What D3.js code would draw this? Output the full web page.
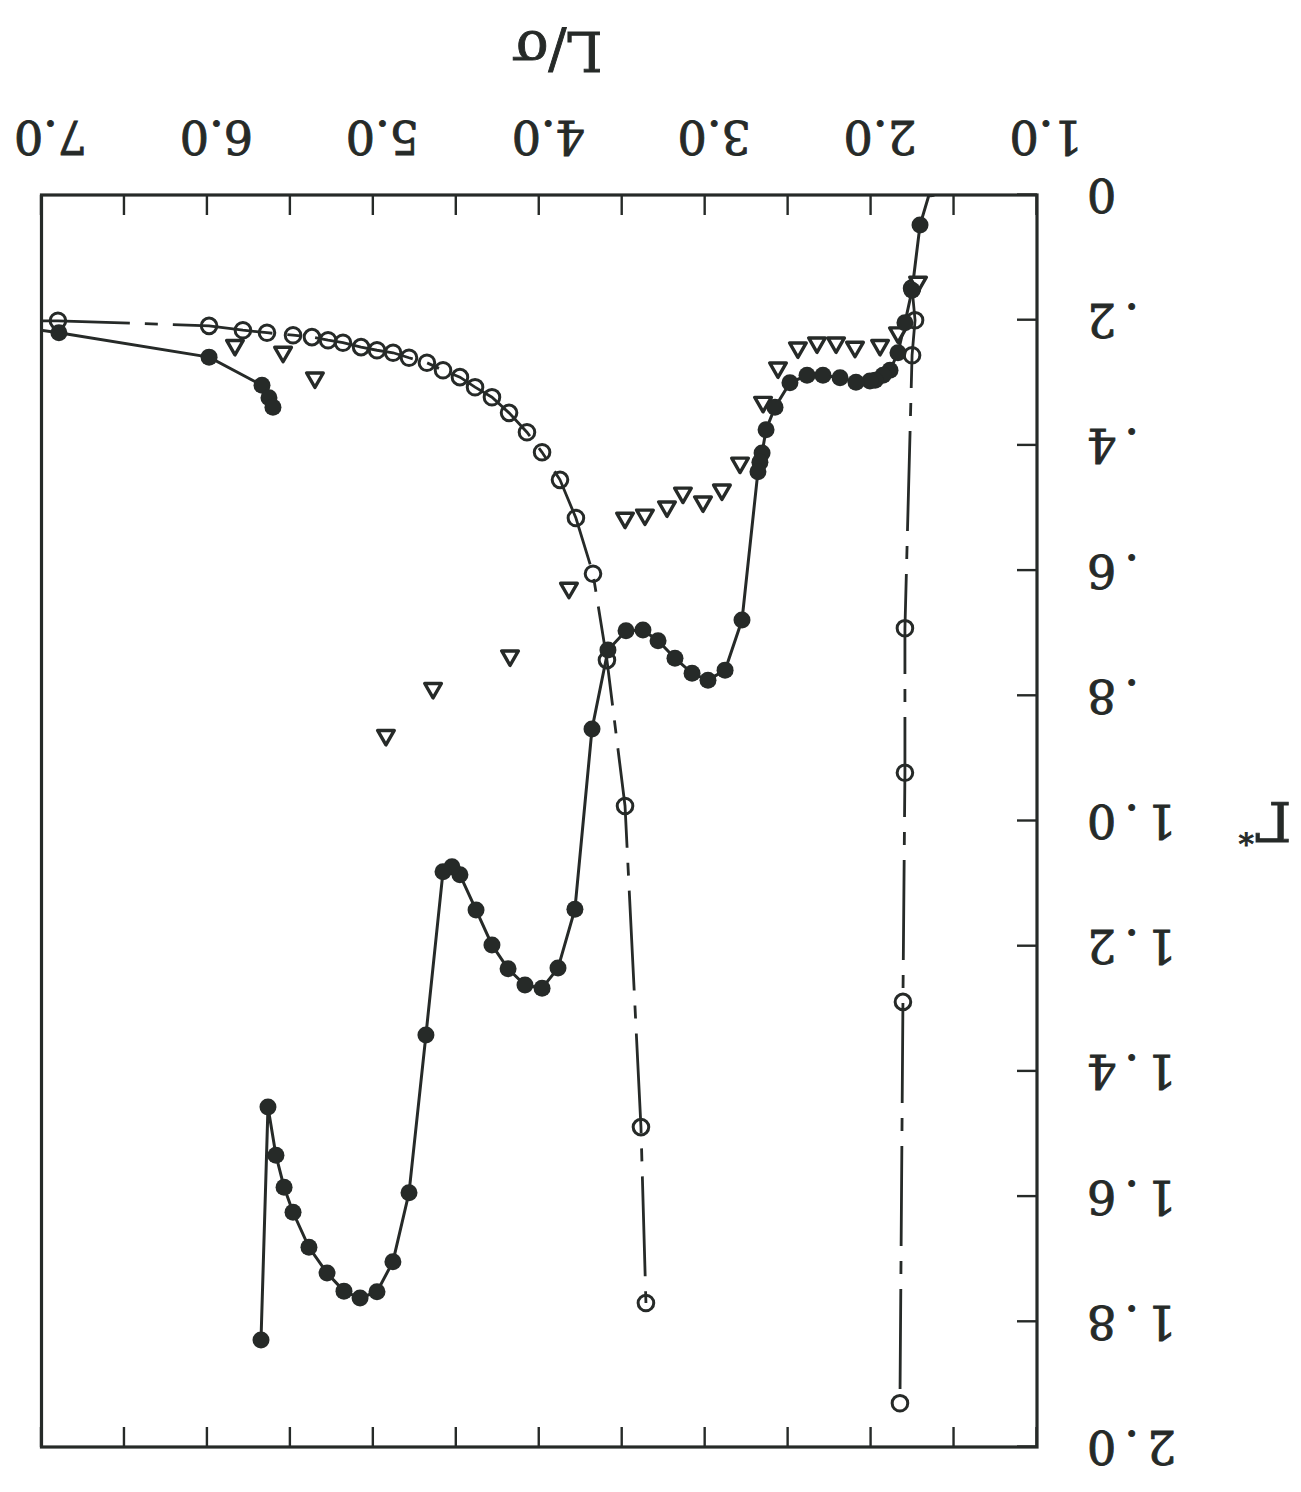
<!DOCTYPE html>
<html>
<head>
<meta charset="utf-8">
<script src="https://cdn.jsdelivr.net/npm/d3@7"></script>
<style>
  html, body { margin: 0; padding: 0; background: #fff; }
  svg { display: block; }
  text { font-family: "DejaVu Serif", "Liberation Serif", serif; fill: #262a28; stroke: #262a28; stroke-width: 0.9; }
</style>
</head>
<body>
<svg id="chart" width="1301" height="1492"></svg>
<script>
// Γ* versus L/σ. Pairs are [L/σ, Γ*].

// Filled circles, solid line: main branch
const filledMain = [
  [1.64, -0.01], [1.705, 0.048], [1.753, 0.152], [1.796, 0.204], [1.838, 0.252],
  [1.886, 0.280], [1.928, 0.288], [1.976, 0.296], [2.007, 0.297], [2.091, 0.299],
  [2.187, 0.292], [2.290, 0.288], [2.386, 0.288], [2.489, 0.300], [2.579, 0.339],
  [2.633, 0.375], [2.657, 0.412], [2.670, 0.427], [2.682, 0.442], [2.778, 0.679],
  [2.880, 0.759], [2.983, 0.775], [3.079, 0.764], [3.182, 0.740], [3.284, 0.712],
  [3.375, 0.695], [3.477, 0.696], [3.586, 0.727], [3.682, 0.853], [3.785, 1.141],
  [3.887, 1.235], [3.983, 1.267], [4.086, 1.262], [4.188, 1.236], [4.285, 1.198],
  [4.381, 1.142], [4.478, 1.086], [4.526, 1.073], [4.580, 1.081], [4.683, 1.342],
  [4.785, 1.594], [4.882, 1.704], [4.978, 1.752], [5.080, 1.762], [5.177, 1.751],
  [5.279, 1.722], [5.388, 1.681], [5.484, 1.625], [5.538, 1.585], [5.587, 1.534],
  [5.635, 1.457], [5.677, 1.829]
];

// Filled circles, solid line: short branch at large L/σ
const filledUpper = [
  [7.08, 0.213], [6.895, 0.220], [5.990, 0.259], [5.671, 0.304], [5.629, 0.324], [5.605, 0.339]
];

// Open circles, dash-dot line: branch crossing at L/σ ≈ 3.6
const openLeft = [
  [7.07, 0.201], [6.901, 0.201], [5.990, 0.209], [5.786, 0.216], [5.641, 0.220],
  [5.484, 0.224], [5.370, 0.227], [5.273, 0.232], [5.183, 0.236], [5.074, 0.243],
  [4.978, 0.248], [4.881, 0.252], [4.785, 0.260], [4.677, 0.268], [4.580, 0.280],
  [4.478, 0.291], [4.387, 0.307], [4.285, 0.323], [4.182, 0.348], [4.074, 0.379],
  [3.983, 0.411], [3.875, 0.455], [3.779, 0.516], [3.676, 0.605], [3.592, 0.743],
  [3.483, 0.976], [3.387, 1.489], [3.357, 1.770]
];

// Open circles, dash-dot line: near-vertical branch at L/σ ≈ 1.8
const openRight = [
  [1.753, 0.149], [1.735, 0.200], [1.753, 0.256], [1.796, 0.692],
  [1.796, 0.923], [1.808, 1.289], [1.826, 1.930]
];

// Open triangles, no line
const triangles = [
  [5.834, 0.240], [5.544, 0.251], [5.352, 0.292], [4.924, 0.863], [4.640, 0.788],
  [4.176, 0.736], [3.821, 0.628], [3.483, 0.516], [3.363, 0.511], [3.230, 0.498],
  [3.134, 0.476], [3.013, 0.490], [2.899, 0.471], [2.790, 0.428], [2.651, 0.331],
  [2.561, 0.276], [2.441, 0.244], [2.326, 0.236], [2.211, 0.236], [2.097, 0.243],
  [1.946, 0.240], [1.838, 0.220], [1.717, 0.139]
];

// Axis ticks
const xTickValues = d3.range(1, 7.001, 0.5);
const xLabelValues = [1, 2, 3, 4, 5, 6, 7];
const yTickValues = d3.range(0, 2.001, 0.2);

const W = 1301, H = 1492;
const ink = "#262a28";

const svg = d3.select("#chart");
// The whole figure is printed upside down
const g = svg.append("g").attr("transform", `rotate(180 ${W / 2} ${H / 2})`);

const x = d3.scaleLinear().domain([1, 7]).range([264, 1259.5]);
const y = d3.scaleLinear().domain([0, 2]).range([1297, 45]);

g.append("clipPath").attr("id", "plot-area")
  .append("rect")
  .attr("x", x(1)).attr("y", y(2))
  .attr("width", x(7) - x(1)).attr("height", y(0) - y(2));

// Axes with inward ticks
const xb = g.append("g").attr("transform", `translate(0,${y(0)})`)
  .call(d3.axisBottom(x).tickValues(xTickValues).tickSize(-20).tickFormat(""));
const xt = g.append("g").attr("transform", `translate(0,${y(2)})`)
  .call(d3.axisTop(x).tickValues(xTickValues).tickSize(-20).tickFormat(""));
const yl = g.append("g").attr("transform", `translate(${x(1)},0)`)
  .call(d3.axisLeft(y).tickValues(yTickValues).tickSize(-20).tickFormat(""));
[xb, xt, yl].forEach(a => {
  a.select(".domain").remove();
  a.selectAll(".tick line").attr("stroke", ink).attr("stroke-width", 2.4);
});

// Frame
g.append("rect")
  .attr("x", x(1)).attr("y", y(2))
  .attr("width", x(7) - x(1)).attr("height", y(0) - y(2))
  .attr("fill", "none").attr("stroke", ink).attr("stroke-width", 3.2);

// Tick labels
g.selectAll("text.xlab").data(xLabelValues).join("text")
  .attr("class", "xlab")
  .attr("x", d => x(d) - 9)
  .attr("y", y(0) + 58)
  .attr("text-anchor", "middle")
  .attr("dominant-baseline", "central")
  .attr("font-size", 46)
  .text(d => d3.format(".1f")(d));

const yFmt = v => v === 0 ? "0" : (v < 1 ? d3.format(".1f")(v).replace(/^0/, "") : d3.format(".1f")(v));
g.selectAll("text.ylab").data(yTickValues).join("text")
  .attr("class", "ylab")
  .attr("x", x(1) - 42)
  .attr("y", d => y(d))
  .attr("text-anchor", "end")
  .attr("dominant-baseline", "central")
  .attr("font-size", 46)
  .attr("letter-spacing", 8)
  .text(yFmt);

// Axis titles
g.append("text")
  .attr("x", 744).attr("y", 1442)
  .attr("text-anchor", "middle")
  .attr("dominant-baseline", "central")
  .attr("font-size", 54)
  .text("L/σ");

const gt = g.append("text")
  .attr("x", 36).attr("y", 671)
  .attr("text-anchor", "middle")
  .attr("dominant-baseline", "central")
  .attr("font-size", 54);
gt.append("tspan").text("Γ");
gt.append("tspan").attr("font-size", 30).attr("dy", -14).text("*");

// Data
const plot = g.append("g").attr("clip-path", "url(#plot-area)");
const line = d3.line().x(d => x(d[0])).y(d => y(d[1]));

[openLeft, openRight].forEach(s => {
  plot.append("path").datum(s)
    .attr("d", line)
    .attr("fill", "none").attr("stroke", ink)
    .attr("stroke-width", 2.8)
    .attr("stroke-dasharray", "100,15,13,15");
});
[filledMain, filledUpper].forEach(s => {
  plot.append("path").datum(s)
    .attr("d", line)
    .attr("fill", "none").attr("stroke", ink)
    .attr("stroke-width", 3);
});

plot.selectAll("circle.open").data(openLeft.concat(openRight)).join("circle")
  .attr("class", "open")
  .attr("cx", d => x(d[0])).attr("cy", d => y(d[1]))
  .attr("r", 7.8)
  .attr("fill", "none").attr("stroke", ink).attr("stroke-width", 3);

const tri = d3.symbol(d3.symbolTriangle, 120);
plot.selectAll("path.tri").data(triangles).join("path")
  .attr("class", "tri")
  .attr("transform", d => `translate(${x(d[0])},${y(d[1])})`)
  .attr("d", tri)
  .attr("fill", "#fff").attr("stroke", ink).attr("stroke-width", 3.4)
  .attr("stroke-linejoin", "round");

plot.selectAll("circle.filled").data(filledMain.concat(filledUpper)).join("circle")
  .attr("class", "filled")
  .attr("cx", d => x(d[0])).attr("cy", d => y(d[1]))
  .attr("r", 8.5)
  .attr("fill", ink);
</script>
</body>
</html>
